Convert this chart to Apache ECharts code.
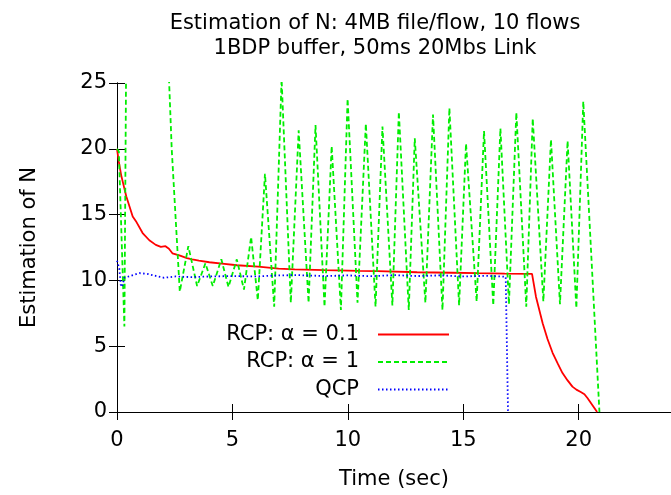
<!DOCTYPE html>
<html>
<head>
<meta charset="utf-8">
<script src="https://cdn.jsdelivr.net/npm/echarts@6/dist/echarts.min.js"></script>
<style>
  html, body { margin: 0; padding: 0; background: #fff; }
  #chart { width: 671px; height: 495px; }
</style>
</head>
<body>
<div id="chart"></div>
<script>
// ── Data: [time (sec), estimation of N] ──
const rcpAlpha01 = [
  [0, 20], [0.08, 19], [0.18, 18], [0.4, 16.4], [0.68, 14.85], [0.82, 14.5], [1.11, 13.6],
  [1.4, 13.05], [1.68, 12.7], [1.9, 12.55], [2.1, 12.6], [2.25, 12.4], [2.4, 12.06],
  [2.7, 11.9], [3.03, 11.7], [3.26, 11.6], [3.55, 11.5], [4.0, 11.38], [4.55, 11.28],
  [5.2, 11.15], [6.12, 11.04], [7.0, 10.9], [7.7, 10.84], [9.0, 10.78], [10.5, 10.72],
  [11.3, 10.7], [13.0, 10.62], [14.5, 10.58], [15.6, 10.55], [16.8, 10.52], [17.98, 10.5],
  [18.15, 8.76], [18.44, 6.75], [18.65, 5.55], [18.87, 4.5], [19.1, 3.65], [19.3, 2.96],
  [19.52, 2.4], [19.73, 1.93], [19.9, 1.7], [20.09, 1.52], [20.25, 1.35], [20.38, 1.06],
  [20.8, 0]
];

const rcpAlpha1 = [
  [0, 20], [0.08, 19.8], [0.32, 6.5], [0.39, 25], [0.5, 31], [1.2, 36], [1.9, 33],
  [2.26, 25], [2.37, 20], [2.72, 9.15], [3.09, 12.6], [3.47, 9.57], [3.83, 11.3],
  [4.15, 9.57], [4.52, 11.6], [4.83, 9.5], [5.19, 11.6], [5.5, 9.3], [5.81, 13.3],
  [6.1, 8.5], [6.41, 18.1], [6.81, 8.0], [7.13, 25.3], [7.53, 8.3], [7.87, 21.4],
  [8.3, 8.3], [8.6, 21.8], [8.99, 8.0], [9.3, 20.2], [9.7, 7.75], [9.99, 23.8],
  [10.42, 8.3], [10.78, 21.9], [11.2, 8.0], [11.5, 21.7], [11.93, 8.1], [12.21, 22.8],
  [12.64, 7.75], [12.9, 20.8], [13.36, 8.3], [13.69, 22.6], [14.1, 7.75], [14.4, 23.1],
  [14.82, 8.1], [15.12, 20.4], [15.58, 8.4], [15.9, 21.35], [16.3, 8.1], [16.61, 21.55],
  [16.98, 8.2], [17.3, 22.75], [17.73, 8.0], [18.01, 22.3], [18.47, 8.4], [18.8, 20.7],
  [19.19, 8.2], [19.52, 20.6], [19.9, 7.9], [20.2, 23.6], [20.9, 0]
];

const qcp = [
  [0, 11.5], [0.1, 10.9], [0.16, 9.7], [0.22, 9.5], [0.32, 10.2], [0.6, 10.35],
  [0.97, 10.55], [1.3, 10.5], [1.54, 10.4], [2.04, 10.2], [2.54, 10.3], [3.2, 10.25],
  [4.0, 10.3], [5.0, 10.33], [6.0, 10.3], [7.0, 10.38], [7.84, 10.4], [9.0, 10.33],
  [10.0, 10.38], [11.0, 10.32], [12.0, 10.4], [13.0, 10.33], [14.0, 10.38],
  [15.0, 10.3], [16.0, 10.35], [16.84, 10.28], [16.94, 0]
];

const seriesNames = ['RCP: \u03b1 = 0.1', 'RCP: \u03b1 = 1', 'QCP'];
const xRange = [0, 24];
const yRange = [0, 25];
const tickStep = 5;

const FONT = '"DejaVu Sans", "Liberation Sans", Arial, sans-serif';

const chart = echarts.init(document.getElementById('chart'));

const axisCommon = {
  type: 'value', interval: tickStep, splitLine: { show: false },
  axisLine: { show: true, lineStyle: { color: '#000', width: 1 } },
  axisTick: { show: true, inside: true, length: 8, lineStyle: { color: '#000', width: 1 } },
};

const option = {
  animation: false,
  backgroundColor: '#fff',
  title: {
    text: 'Estimation of N: 4MB file/flow, 10 flows\n1BDP buffer, 50ms 20Mbs Link',
    left: 375, top: 11, padding: 0, textAlign: 'center',
    textStyle: { fontFamily: FONT, fontSize: 21, fontWeight: 'normal', color: '#000', lineHeight: 25 },
  },
  legend: {
    orient: 'vertical', align: 'right', right: 221, top: 324, padding: 0,
    itemWidth: 71, itemHeight: 14, itemGap: 6.5,
    data: seriesNames,
    itemStyle: { opacity: 0 },
    textStyle: { fontFamily: FONT, fontSize: 21, color: '#000', lineHeight: 21, padding: [0, 14, 0, 0] },
  },
  grid: { left: 117, right: -5, top: 83, bottom: 83, containLabel: false },
  xAxis: [
    { ...axisCommon, position: 'bottom', min: xRange[0], max: xRange[1],
      name: 'Time (sec)', nameLocation: 'middle', nameGap: 57,
      nameTextStyle: { fontFamily: FONT, fontSize: 21, color: '#000' },
      axisLabel: { fontFamily: FONT, fontSize: 21, color: '#000', margin: 18, showMaxLabel: false } },
    { ...axisCommon, position: 'top', min: xRange[0], max: xRange[1], axisLabel: { show: false } },
  ],
  yAxis: [
    { ...axisCommon, position: 'left', min: yRange[0], max: yRange[1],
      name: 'Estimation of N', nameLocation: 'middle', nameGap: 77,
      nameTextStyle: { fontFamily: FONT, fontSize: 21, color: '#000' },
      axisLabel: { fontFamily: FONT, fontSize: 21, color: '#000', margin: 10 } },
    { ...axisCommon, position: 'right', min: yRange[0], max: yRange[1], axisLabel: { show: false } },
  ],
  series: [
    { name: seriesNames[0], type: 'line', data: rcpAlpha01, showSymbol: false, symbol: 'none',
      clip: true, lineStyle: { color: '#ff0000', width: 1.8, type: 'solid' }, itemStyle: { color: '#ff0000' } },
    { name: seriesNames[1], type: 'line', data: rcpAlpha1, showSymbol: false, symbol: 'none',
      clip: true, lineStyle: { color: '#00ee00', width: 1.8, type: [5, 3] }, itemStyle: { color: '#00ee00' } },
    { name: seriesNames[2], type: 'line', data: qcp, showSymbol: false, symbol: 'none',
      clip: true, lineStyle: { color: '#0000ff', width: 1.8, type: [1.5, 2.5] }, itemStyle: { color: '#0000ff' } },
  ],
};

chart.setOption(option);
</script>
</body>
</html>
